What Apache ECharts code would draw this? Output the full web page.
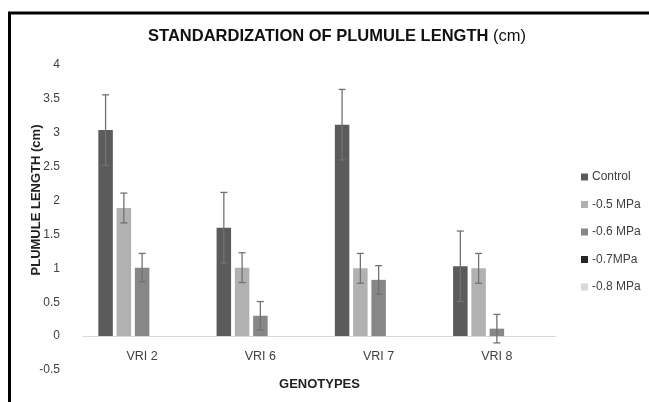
<!DOCTYPE html>
<html><head><meta charset="utf-8">
<script src="https://cdn.jsdelivr.net/npm/echarts@6/dist/echarts.min.js"></script>
<style>html,body{margin:0;padding:0;background:#fff}#c{width:649px;height:402px}</style>
</head><body><div id="c"></div>
<script>
var categories = ['VRI 2', 'VRI 6', 'VRI 7', 'VRI 8'];
var seriesNames = ['Control', '-0.5 MPa', '-0.6 MPa', '-0.7MPa', '-0.8 MPa'];
var control = [3.04, 1.60, 3.12, 1.03];
var mpa05 = [1.89, 1.01, 1.00, 1.00];
var mpa06 = [1.01, 0.30, 0.83, 0.11];
var mpa07 = [null, null, null, null];
var mpa08 = [null, null, null, null];
var errControl = [0.52, 0.52, 0.52, 0.52];
var err05 = [0.22, 0.22, 0.22, 0.22];
var err06 = [0.21, 0.21, 0.21, 0.21];
var yTicks = [-0.5, 0, 0.5, 1, 1.5, 2, 2.5, 3, 3.5, 4];

var colors = ['#5b5b5b', '#b1b1b1', '#878787', '#262626', '#d9d9d9'];
var values = [control, mpa05, mpa06, mpa07, mpa08];
var errors = [errControl, err05, err06, null, null];
var BAR_W = 14.5, GAP_RATIO = 0.26, NB = 5;
var FONT = '"Liberation Sans", Arial, sans-serif';

var series = [];
values.forEach(function (vals, i) {
  series.push({
    name: seriesNames[i], type: 'bar', data: vals,
    barWidth: BAR_W, barGap: (GAP_RATIO * 100) + '%',
    itemStyle: { color: colors[i] }
  });
});
errors.forEach(function (errs, i) {
  if (!errs) return;
  series.push({
    name: 'err' + i, type: 'custom', z: 5,
    data: values[i].map(function (v, k) { return [k, v, errs[k]]; }),
    encode: { x: 0, y: 1 },
    renderItem: function (params, api) {
      var k = api.value(0), v = api.value(1), e = api.value(2);
      var gap = BAR_W * GAP_RATIO;
      var total = NB * BAR_W + (NB - 1) * gap;
      var c = api.coord([k, v]);
      var x = c[0] - total / 2 + i * (BAR_W + gap) + BAR_W / 2;
      var top = api.coord([k, v + e])[1];
      var bot = api.coord([k, v - e])[1];
      var cap = 3.5;
      var st = { stroke: '#727272', lineWidth: 1.3 };
      return { type: 'group', children: [
        { type: 'line', shape: { x1: x, y1: top, x2: x, y2: bot }, style: st },
        { type: 'line', shape: { x1: x - cap, y1: top, x2: x + cap, y2: top }, style: st },
        { type: 'line', shape: { x1: x - cap, y1: bot, x2: x + cap, y2: bot }, style: st }
      ]};
    }
  });
});

var chart = echarts.init(document.getElementById('c'), null, { renderer: 'canvas' });
chart.setOption({
  animation: false,
  backgroundColor: '#fff',
  textStyle: { fontFamily: FONT },
  title: {
    text: '{b|STANDARDIZATION OF PLUMULE LENGTH }{n|(cm)}',
    left: 332, top: 23, textAlign: 'center',
    textStyle: { rich: {
      b: { fontFamily: FONT, fontWeight: 'bold', fontSize: 16.5, color: '#111' },
      n: { fontFamily: FONT, fontWeight: 'normal', fontSize: 16.5, color: '#111' }
    } }
  },
  legend: {
    data: seriesNames, orient: 'vertical', left: 576, top: 166,
    itemWidth: 7, itemHeight: 7, itemGap: 15.5, icon: 'rect',
    textStyle: { fontFamily: FONT, fontSize: 12, color: '#404040', padding: [0, 0, 0, -1] }
  },
  grid: { left: 83, right: 93, top: 65, bottom: 32, containLabel: false, outerBoundsMode: 'none' },
  xAxis: {
    type: 'category', data: categories,
    axisLine: { onZero: true, lineStyle: { color: '#d9d9d9', width: 1 } },
    axisTick: { show: false },
    axisLabel: { fontFamily: FONT, fontSize: 12.5, color: '#404040', margin: -20 },
    name: 'GENOTYPES', nameLocation: 'middle', nameGap: 8,
    nameTextStyle: { fontFamily: FONT, fontWeight: 'bold', fontSize: 13, color: '#222' }
  },
  yAxis: {
    type: 'value', min: -0.5, max: 4, interval: 0.5,
    axisLine: { show: false }, axisTick: { show: false },
    splitLine: { show: false },
    axisLabel: { fontFamily: FONT, fontSize: 12, color: '#404040', margin: 23,
      formatter: function (v) { return yTicks.indexOf(v) >= 0 ? String(v) : ''; } }
  },
  graphic: [
    { type: 'rect', shape: { x: 9.5, y: 13, width: 900, height: 600 },
      style: { fill: 'none', stroke: '#000', lineWidth: 3 }, z: 100 },
    { type: 'text', x: 36, y: 200, rotation: Math.PI / 2,
      style: { text: 'PLUMULE LENGTH (cm)', fontFamily: FONT, fontWeight: 'bold', fontSize: 13,
        fill: '#222', textAlign: 'center', textVerticalAlign: 'middle' } }
  ],
  series: series
});
</script></body></html>
